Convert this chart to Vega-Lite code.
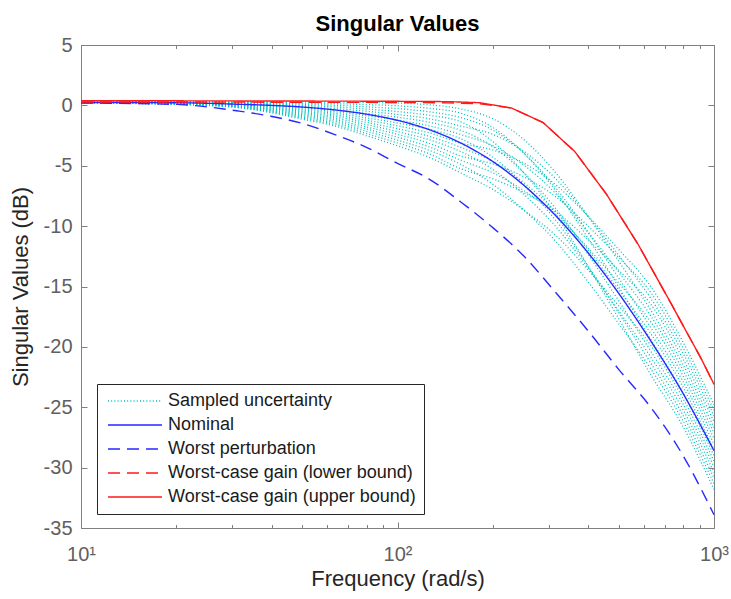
{
  "$schema": "https://vega.github.io/schema/vega-lite/v6.json",
  "width": 633,
  "height": 483,
  "autosize": {"type": "none"},
  "padding": {"left": 81, "top": 45, "right": 17, "bottom": 71},
  "title": {"text": "Singular Values", "fontSize": 22, "fontWeight": "bold", "font": "Liberation Sans", "color": "#000000", "anchor": "middle", "offset": 8, "baseline": "alphabetic", "dy": 26},
  "config": {
    "font": "Liberation Sans",
    "view": {"stroke": "#808080", "strokeWidth": 1},
    "axis": {"grid": false, "domain": false, "tickColor": "#808080", "tickWidth": 1, "labelColor": "#606060", "labelFont": "Liberation Sans", "labelFontSize": 20, "labelFlush": false, "labelOverlap": false, "titleFont": "Liberation Sans", "titleFontSize": 22, "titleFontWeight": "normal", "titleColor": "#262626"}
  },
  "resolve": {"axis": {"x": "independent", "y": "independent"}},
  "layer": [
    {
      "data": {"values": [
        {"f": 10, "c00": 0.20, "c01": 0.21, "c02": 0.21, "c03": 0.22, "c04": 0.23, "c05": 0.23, "c06": 0.24, "c07": 0.25, "c08": 0.25, "c09": 0.26, "c10": 0.27, "c11": 0.27, "c12": 0.28, "c13": 0.29, "c14": 0.29, "c15": 0.30},
        {"f": 19.95, "c00": 0.08, "c01": 0.09, "c02": 0.11, "c03": 0.12, "c04": 0.14, "c05": 0.15, "c06": 0.17, "c07": 0.18, "c08": 0.20, "c09": 0.21, "c10": 0.23, "c11": 0.24, "c12": 0.26, "c13": 0.27, "c14": 0.29, "c15": 0.30},
        {"f": 31.62, "c00": -0.20, "c01": -0.17, "c02": -0.13, "c03": -0.10, "c04": -0.07, "c05": -0.03, "c06": 0.00, "c07": 0.03, "c08": 0.07, "c09": 0.10, "c10": 0.13, "c11": 0.17, "c12": 0.20, "c13": 0.23, "c14": 0.27, "c15": 0.30},
        {"f": 39.81, "c00": -0.60, "c01": -0.54, "c02": -0.48, "c03": -0.42, "c04": -0.36, "c05": -0.30, "c06": -0.24, "c07": -0.18, "c08": -0.12, "c09": -0.06, "c10": 0.00, "c11": 0.06, "c12": 0.12, "c13": 0.18, "c14": 0.24, "c15": 0.30},
        {"f": 50.12, "c00": -1.15, "c01": -1.05, "c02": -0.96, "c03": -0.86, "c04": -0.77, "c05": -0.67, "c06": -0.57, "c07": -0.48, "c08": -0.38, "c09": -0.29, "c10": -0.19, "c11": -0.09, "c12": 0.00, "c13": 0.10, "c14": 0.19, "c15": 0.29},
        {"f": 63.1, "c00": -1.70, "c01": -1.57, "c02": -1.44, "c03": -1.31, "c04": -1.17, "c05": -1.04, "c06": -0.91, "c07": -0.78, "c08": -0.65, "c09": -0.52, "c10": -0.39, "c11": -0.26, "c12": -0.12, "c13": 0.01, "c14": 0.14, "c15": 0.27},
        {"f": 79.43, "c00": -2.50, "c01": -2.32, "c02": -2.13, "c03": -1.95, "c04": -1.77, "c05": -1.58, "c06": -1.40, "c07": -1.22, "c08": -1.03, "c09": -0.85, "c10": -0.67, "c11": -0.48, "c12": -0.30, "c13": -0.12, "c14": 0.07, "c15": 0.25},
        {"f": 100, "c00": -3.35, "c01": -3.11, "c02": -2.88, "c03": -2.64, "c04": -2.40, "c05": -2.17, "c06": -1.93, "c07": -1.69, "c08": -1.46, "c09": -1.22, "c10": -0.98, "c11": -0.75, "c12": -0.51, "c13": -0.27, "c14": -0.04, "c15": 0.20},
        {"f": 125.9, "c00": -4.30, "c01": -4.01, "c02": -3.72, "c03": -3.43, "c04": -3.14, "c05": -2.85, "c06": -2.56, "c07": -2.27, "c08": -1.98, "c09": -1.69, "c10": -1.40, "c11": -1.11, "c12": -0.82, "c13": -0.53, "c14": -0.24, "c15": 0.05},
        {"f": 158.5, "c00": -5.60, "c01": -5.25, "c02": -4.89, "c03": -4.54, "c04": -4.19, "c05": -3.83, "c06": -3.48, "c07": -3.13, "c08": -2.77, "c09": -2.42, "c10": -2.07, "c11": -1.71, "c12": -1.36, "c13": -1.01, "c14": -0.65, "c15": -0.30},
        {"f": 199.5, "c00": -6.94, "c01": -6.07, "c02": -6.51, "c03": -5.57, "c04": -4.84, "c05": -5.28, "c06": -4.63, "c07": -3.69, "c08": -4.27, "c09": -3.33, "c10": -3.40, "c11": -2.39, "c12": -2.97, "c13": -2.03, "c14": -1.81, "c15": -1.09},
        {"f": 251.2, "c00": -8.69, "c01": -7.23, "c02": -8.69, "c03": -7.07, "c04": -5.93, "c05": -7.39, "c06": -6.42, "c07": -4.80, "c08": -6.58, "c09": -4.96, "c10": -5.61, "c11": -3.82, "c12": -5.61, "c13": -3.98, "c14": -3.98, "c15": -2.85},
        {"f": 316.2, "c00": -10.77, "c01": -8.79, "c02": -11.26, "c03": -9.04, "c04": -7.56, "c05": -10.03, "c06": -8.79, "c07": -6.57, "c08": -9.53, "c09": -7.31, "c10": -8.55, "c11": -6.08, "c12": -9.04, "c13": -6.82, "c14": -7.07, "c15": -5.59},
        {"f": 398.1, "c00": -13.56, "c01": -11.09, "c02": -14.54, "c03": -11.75, "c04": -9.94, "c05": -13.39, "c06": -11.91, "c07": -9.12, "c08": -13.23, "c09": -10.43, "c10": -12.24, "c11": -9.12, "c12": -13.23, "c13": -10.43, "c14": -10.92, "c15": -9.12},
        {"f": 501.2, "c00": -16.64, "c01": -13.68, "c02": -18.12, "c03": -14.75, "c04": -12.62, "c05": -17.06, "c06": -15.33, "c07": -11.96, "c08": -17.22, "c09": -13.85, "c10": -16.23, "c11": -12.45, "c12": -17.71, "c13": -14.34, "c14": -15.08, "c15": -12.94},
        {"f": 631, "c00": -19.87, "c01": -16.46, "c02": -21.81, "c03": -17.92, "c04": -15.49, "c05": -20.84, "c06": -18.89, "c07": -15.00, "c08": -21.33, "c09": -17.43, "c10": -20.35, "c11": -15.97, "c12": -22.30, "c13": -18.41, "c14": -19.38, "c15": -16.95},
        {"f": 794.3, "c00": -24.17, "c01": -20.90, "c02": -26.03, "c03": -22.30, "c04": -19.97, "c05": -25.10, "c06": -23.23, "c07": -19.50, "c08": -25.57, "c09": -21.83, "c10": -24.63, "c11": -20.43, "c12": -26.50, "c13": -22.77, "c14": -23.70, "c15": -21.37},
        {"f": 1000, "c00": -29.47, "c01": -26.20, "c02": -31.33, "c03": -27.60, "c04": -25.27, "c05": -30.40, "c06": -28.53, "c07": -24.80, "c08": -30.87, "c09": -27.13, "c10": -29.93, "c11": -25.73, "c12": -31.80, "c13": -28.07, "c14": -29.00, "c15": -26.67}
      ]},
      "transform": [{"fold": ["c00", "c01", "c02", "c03", "c04", "c05", "c06", "c07", "c08", "c09", "c10", "c11", "c12", "c13", "c14", "c15"], "as": ["curve", "db"]}],
      "mark": {"type": "line", "interpolate": "monotone", "strokeWidth": 1.3},
      "encoding": {
        "x": {"field": "f", "type": "quantitative", "scale": {"type": "log", "domain": [10, 1000], "nice": false},
              "axis": {"orient": "bottom", "values": [10, 100, 1000], "labelExpr": "datum.value == 10 ? '10¹' : datum.value == 100 ? '10²' : '10³'", "tickSize": -6, "labelPadding": 22, "title": "Frequency (rad/s)", "titlePadding": 4}},
        "y": {"field": "db", "type": "quantitative", "scale": {"domain": [-35, 5], "nice": false, "zero": false},
              "axis": {"orient": "left", "values": [-35, -30, -25, -20, -15, -10, -5, 0, 5], "labelExpr": "'' + datum.value", "tickSize": -6, "labelPadding": 15, "title": "Singular Values (dB)", "titlePadding": 11}},
        "color": {"datum": "Sampled uncertainty", "type": "nominal", "title": null,
                  "scale": {"domain": ["Sampled uncertainty", "Nominal", "Worst perturbation", "Worst-case gain (lower bound)", "Worst-case gain (upper bound)"], "range": ["#00BFBF", "#2828ff", "#2828ff", "#ff1a1a", "#ff1a1a"]},
                  "legend": {"title": null, "orient": "none", "legendX": 16, "legendY": 339, "direction": "vertical", "symbolType": "M-2,0H16", "symbolSize": 36, "symbolStrokeWidth": 1.4, "labelFontSize": 18, "labelFont": "Liberation Sans", "labelColor": "#1a1a1a", "labelOffset": 45, "labelLimit": 400, "strokeColor": "#262626", "fillColor": "#ffffff", "padding": 8, "rowPadding": 6}},
        "strokeDash": {"datum": "Sampled uncertainty", "type": "nominal", "title": null,
                       "scale": {"domain": ["Sampled uncertainty", "Nominal", "Worst perturbation", "Worst-case gain (lower bound)", "Worst-case gain (upper bound)"], "range": [[1, 2.2], [1, 0], [12, 7], [12, 7], [1, 0]]}},
        "detail": {"field": "curve", "type": "nominal"}
      }
    },
    {
      "data": {"values": [
        {"series": "Nominal", "f": 10, "db": 0.24}, {"series": "Nominal", "f": 19.95, "db": 0.22}, {"series": "Nominal", "f": 31.62, "db": 0.09}, {"series": "Nominal", "f": 39.81, "db": 0.0}, {"series": "Nominal", "f": 50.12, "db": -0.14}, {"series": "Nominal", "f": 63.1, "db": -0.37}, {"series": "Nominal", "f": 79.43, "db": -0.72}, {"series": "Nominal", "f": 100, "db": -1.24}, {"series": "Nominal", "f": 125.9, "db": -2.01}, {"series": "Nominal", "f": 158.5, "db": -3.12}, {"series": "Nominal", "f": 199.5, "db": -4.63}, {"series": "Nominal", "f": 251.2, "db": -6.64}, {"series": "Nominal", "f": 316.2, "db": -9.14}, {"series": "Nominal", "f": 398.1, "db": -12.14}, {"series": "Nominal", "f": 501.2, "db": -15.61}, {"series": "Nominal", "f": 631, "db": -19.5}, {"series": "Nominal", "f": 794.3, "db": -23.75}, {"series": "Nominal", "f": 1000, "db": -28.6},
        {"series": "Worst perturbation", "f": 10, "db": 0.2}, {"series": "Worst perturbation", "f": 19.95, "db": 0.08}, {"series": "Worst perturbation", "f": 31.62, "db": -0.48}, {"series": "Worst perturbation", "f": 39.81, "db": -0.9}, {"series": "Worst perturbation", "f": 50.12, "db": -1.5}, {"series": "Worst perturbation", "f": 63.1, "db": -2.4}, {"series": "Worst perturbation", "f": 79.43, "db": -3.45}, {"series": "Worst perturbation", "f": 100, "db": -4.8}, {"series": "Worst perturbation", "f": 125.9, "db": -6.1}, {"series": "Worst perturbation", "f": 158.5, "db": -8.0}, {"series": "Worst perturbation", "f": 199.5, "db": -10.1}, {"series": "Worst perturbation", "f": 251.2, "db": -12.5}, {"series": "Worst perturbation", "f": 316.2, "db": -15.5}, {"series": "Worst perturbation", "f": 398.1, "db": -18.6}, {"series": "Worst perturbation", "f": 501.2, "db": -21.9}, {"series": "Worst perturbation", "f": 631, "db": -25.0}, {"series": "Worst perturbation", "f": 794.3, "db": -28.9}, {"series": "Worst perturbation", "f": 1000, "db": -33.9}
      ]},
      "mark": {"type": "line", "interpolate": "monotone", "strokeWidth": 1.4},
      "encoding": {
        "x": {"field": "f", "type": "quantitative", "axis": null},
        "y": {"field": "db", "type": "quantitative", "axis": null},
        "color": {"field": "series", "type": "nominal", "title": null},
        "strokeDash": {"field": "series", "type": "nominal", "title": null}
      }
    },
    {
      "data": {"values": [
        {"series": "Worst-case gain (lower bound)", "f": 10, "db": 0.28}, {"series": "Worst-case gain (lower bound)", "f": 18.2, "db": 0.28}, {"series": "Worst-case gain (lower bound)", "f": 28.84, "db": 0.27}, {"series": "Worst-case gain (lower bound)", "f": 45.71, "db": 0.26}, {"series": "Worst-case gain (lower bound)", "f": 72.44, "db": 0.25}, {"series": "Worst-case gain (lower bound)", "f": 114.8, "db": 0.23}, {"series": "Worst-case gain (lower bound)", "f": 144.5, "db": 0.21}, {"series": "Worst-case gain (lower bound)", "f": 182, "db": 0.14}, {"series": "Worst-case gain (lower bound)", "f": 229.1, "db": -0.22}, {"series": "Worst-case gain (lower bound)", "f": 288.4, "db": -1.42}, {"series": "Worst-case gain (lower bound)", "f": 363.1, "db": -3.82}, {"series": "Worst-case gain (lower bound)", "f": 457.1, "db": -7.35}, {"series": "Worst-case gain (lower bound)", "f": 575.4, "db": -11.5}, {"series": "Worst-case gain (lower bound)", "f": 724.4, "db": -16.2}, {"series": "Worst-case gain (lower bound)", "f": 912, "db": -21.0}, {"series": "Worst-case gain (lower bound)", "f": 1000, "db": -23.1},
        {"series": "Worst-case gain (upper bound)", "f": 10, "db": 0.38}, {"series": "Worst-case gain (upper bound)", "f": 18.2, "db": 0.38}, {"series": "Worst-case gain (upper bound)", "f": 28.84, "db": 0.37}, {"series": "Worst-case gain (upper bound)", "f": 45.71, "db": 0.36}, {"series": "Worst-case gain (upper bound)", "f": 72.44, "db": 0.35}, {"series": "Worst-case gain (upper bound)", "f": 114.8, "db": 0.33}, {"series": "Worst-case gain (upper bound)", "f": 144.5, "db": 0.31}, {"series": "Worst-case gain (upper bound)", "f": 182, "db": 0.22}, {"series": "Worst-case gain (upper bound)", "f": 229.1, "db": -0.22}, {"series": "Worst-case gain (upper bound)", "f": 288.4, "db": -1.42}, {"series": "Worst-case gain (upper bound)", "f": 363.1, "db": -3.82}, {"series": "Worst-case gain (upper bound)", "f": 457.1, "db": -7.35}, {"series": "Worst-case gain (upper bound)", "f": 575.4, "db": -11.5}, {"series": "Worst-case gain (upper bound)", "f": 724.4, "db": -16.2}, {"series": "Worst-case gain (upper bound)", "f": 912, "db": -21.0}, {"series": "Worst-case gain (upper bound)", "f": 1000, "db": -23.1}
      ]},
      "mark": {"type": "line", "interpolate": "linear", "strokeWidth": 1.4},
      "encoding": {
        "x": {"field": "f", "type": "quantitative", "axis": null},
        "y": {"field": "db", "type": "quantitative", "axis": null},
        "color": {"field": "series", "type": "nominal", "title": null},
        "strokeDash": {"field": "series", "type": "nominal", "title": null}
      }
    },
    {
      "data": {"values": [{"f": 100, "db": 0}]},
      "mark": {"type": "point", "opacity": 0},
      "encoding": {
        "x": {"field": "f", "type": "quantitative", "axis": {"orient": "top", "values": [10, 100, 1000], "labels": false, "tickSize": -6, "title": null}},
        "y": {"field": "db", "type": "quantitative", "axis": {"orient": "right", "values": [-35, -30, -25, -20, -15, -10, -5, 0, 5], "labels": false, "tickSize": -6, "title": null}}
      }
    },
    {
      "data": {"values": [{"f": 100, "db": 0}]},
      "mark": {"type": "point", "opacity": 0},
      "encoding": {
        "x": {"field": "f", "type": "quantitative", "axis": {"orient": "bottom", "values": [20, 30, 40, 50, 60, 70, 80, 90, 200, 300, 400, 500, 600, 700, 800, 900], "labels": false, "tickSize": -3.5, "title": null}},
        "y": {"field": "db", "type": "quantitative", "axis": null}
      }
    },
    {
      "data": {"values": [{"f": 100, "db": 0}]},
      "mark": {"type": "point", "opacity": 0},
      "encoding": {
        "x": {"field": "f", "type": "quantitative", "axis": {"orient": "top", "values": [20, 30, 40, 50, 60, 70, 80, 90, 200, 300, 400, 500, 600, 700, 800, 900], "labels": false, "tickSize": -3.5, "title": null}},
        "y": {"field": "db", "type": "quantitative", "axis": null}
      }
    }
  ]
}
